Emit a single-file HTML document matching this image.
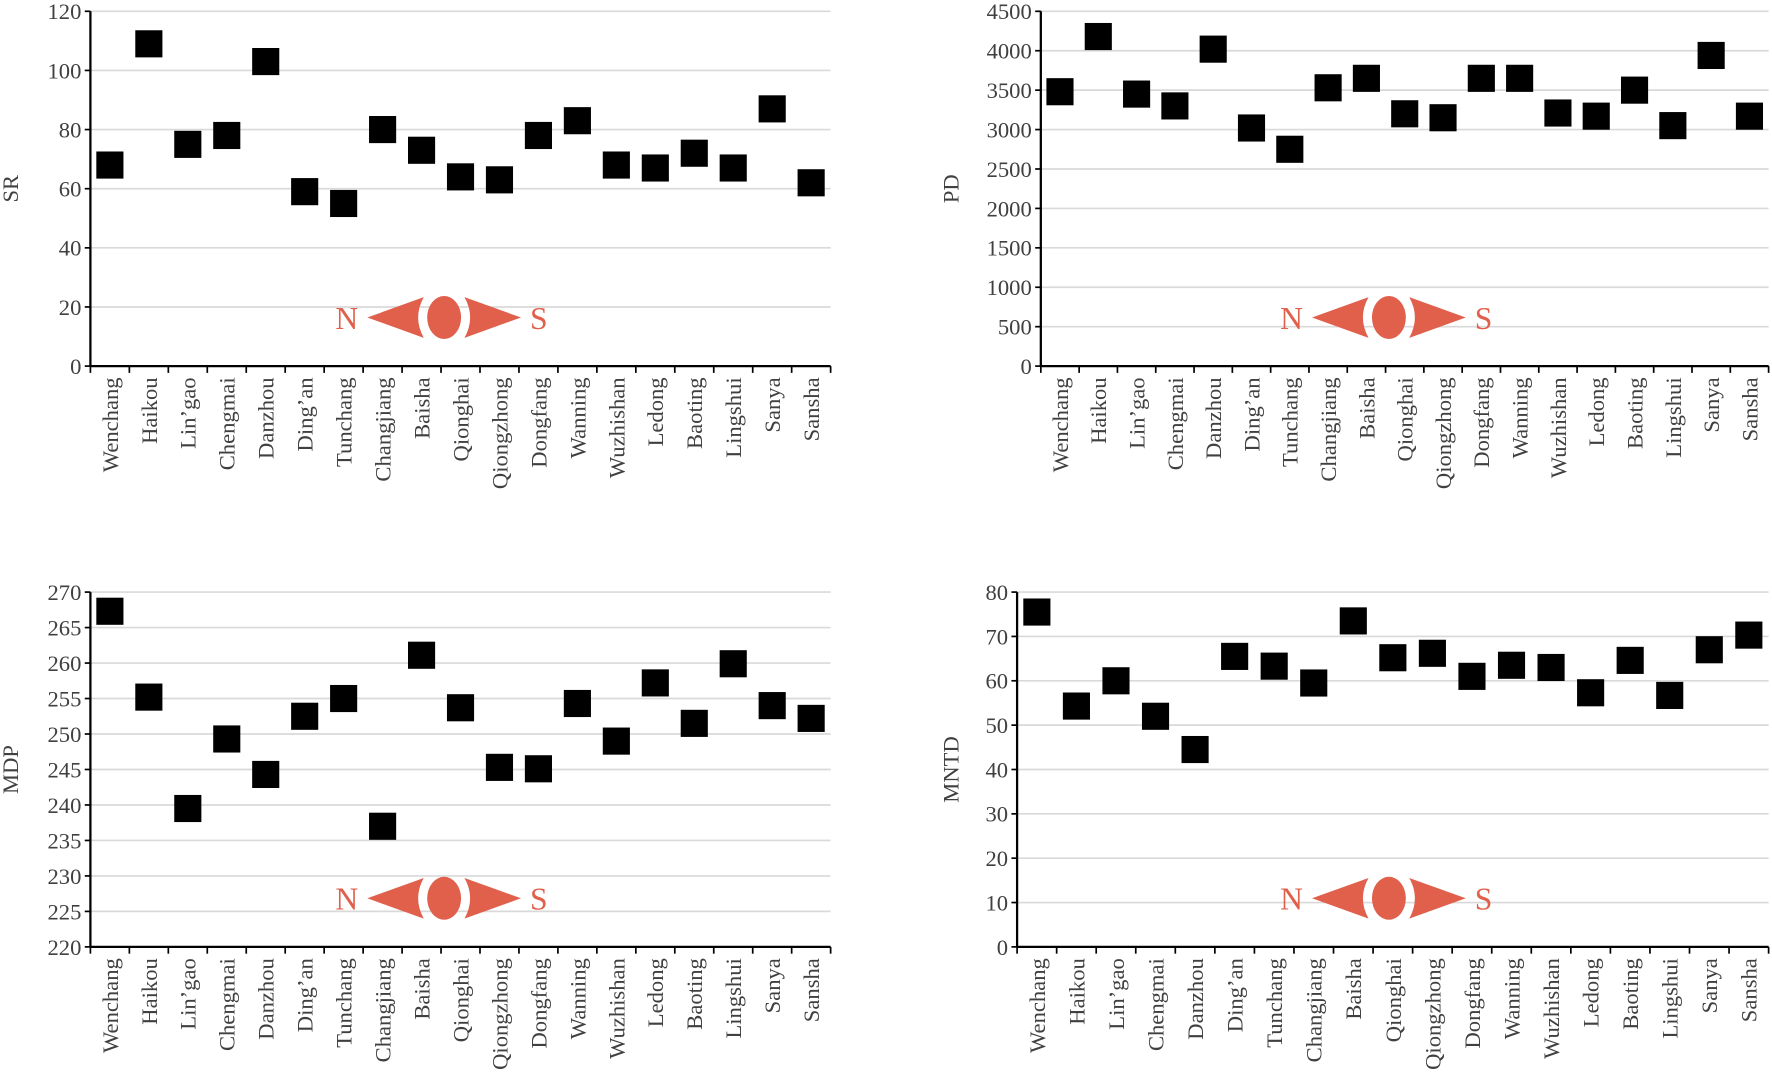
<!DOCTYPE html>
<html><head><meta charset="utf-8"><style>
html,body{margin:0;padding:0;background:#fff;}
svg{display:block;}
text{font-family:"Liberation Serif",serif;fill:#404040;}
</style></head><body>
<svg id="root" width="1772" height="1087" viewBox="0 0 1568 962" preserveAspectRatio="none" xmlns="http://www.w3.org/2000/svg"></svg>
<script>
const categories = ["Wenchang","Haikou","Lin\u2019gao","Chengmai","Danzhou","Ding\u2019an","Tunchang","Changjiang","Baisha","Qionghai","Qiongzhong","Dongfang","Wanning","Wuzhishan","Ledong","Baoting","Lingshui","Sanya","Sansha"];
const srValues = [68,109,75,78,103,59,55,80,73,64,63,78,83,68,67,72,67,87,62];
const pdValues = [3480,4180,3450,3300,4020,3020,2750,3530,3650,3200,3150,3650,3650,3210,3170,3500,3050,3940,3170];
const mdpValues = [267.3,255.2,239.5,249.3,244.3,252.5,255,237,261.1,253.7,245.3,245.1,254.3,249,257.2,251.5,259.9,254,252.2];
const mntdValues = [75.5,54.3,60,52,44.5,65.5,63.3,59.5,73.5,65.2,66.2,61,63.5,63,57.3,64.6,56.7,67,70.3];
const srTicks = [0,20,40,60,80,100,120];
const pdTicks = [0,500,1000,1500,2000,2500,3000,3500,4000,4500];
const mdpTicks = [220,225,230,235,240,245,250,255,260,265,270];
const mntdTicks = [0,10,20,30,40,50,60,70,80];

const NS="http://www.w3.org/2000/svg";
const root=document.getElementById('root');
function mk(tag,attrs,parent){const e=document.createElementNS(NS,tag);for(const k in attrs)e.setAttribute(k,attrs[k]);(parent||root).appendChild(e);return e;}

function chart(name,yTitle,values,ticks,x0,x1,yTop,yBot,compassX,titleX){
  const g=mk('g',{});
  
  
  const lo=ticks[0],hi=ticks[ticks.length-1];
  const yS=v=>yBot-(v-lo)/(hi-lo)*(yBot-yTop);
  const n=categories.length,bw=(x1-x0)/n;
  const xS=i=>x0+bw*(i+0.5);
  ticks.forEach(t=>{
    const y=yS(t);
    if(t!==lo){const l=mk('line',{x1:x0,x2:x1,y1:y,y2:y,stroke:'#d9d9d9','stroke-width':1.5},g);
      
      }
    mk('line',{x1:x0-5,x2:x0,y1:y,y2:y,stroke:'#000','stroke-width':1.5},g);
    const tx=mk('text',{x:x0-8,y:y+7,'text-anchor':'end','font-size':20},g);
    tx.textContent=t;
    
    
  });
  const ya=mk('line',{x1:x0,x2:x0,y1:yTop,y2:yBot,stroke:'#000','stroke-width':2},g);
  
  
  const xa=mk('line',{x1:x0,x2:x1,y1:yBot,y2:yBot,stroke:'#000','stroke-width':2},g);
  
  
  for(let i=0;i<=n;i++){const xx=x0+bw*i;mk('line',{x1:xx,x2:xx,y1:yBot,y2:yBot+6,stroke:'#000','stroke-width':1.5},g);}
  categories.forEach((c,i)=>{
    const t=mk('text',{transform:`translate(${xS(i)+7},${yBot+10}) rotate(-90)`,'text-anchor':'end','font-size':20},g);
    t.textContent=c;
    
    
  });
  const yt=mk('text',{transform:`translate(${titleX},${(yTop+yBot)/2}) rotate(-90)`,'text-anchor':'middle','font-size':20},g);
  yt.textContent=yTitle;
  
  
  values.forEach((v,i)=>{
    const r=mk('rect',{x:xS(i)-12,y:yS(v)-12,width:24,height:24,fill:'#000'},g);
    
    
  });
  const cx=compassX, cy=yTop+(yBot-yTop)*0.863;
  const cg=mk('g',{fill:'#e0604c'},g);
  
  
  mk('path',{d:`M${cx-68},${cy} L${cx-18},${cy-18} Q${cx-28},${cy} ${cx-18},${cy+18} Z`},cg);
  mk('path',{d:`M${cx+68},${cy} L${cx+18},${cy-18} Q${cx+28},${cy} ${cx+18},${cy+18} Z`},cg);
  mk('ellipse',{cx:cx,cy:cy,rx:15,ry:19},cg);
  const tn=mk('text',{x:cx-76,y:cy+10,'text-anchor':'end','font-size':28,style:'fill:#e0604c'},cg);tn.textContent='N';
  const ts=mk('text',{x:cx+76,y:cy+10,'text-anchor':'start','font-size':28,style:'fill:#e0604c'},cg);ts.textContent='S';
}
chart('sr','SR',srValues,srTicks,80,735,10,324,393,16);
chart('pd','PD',pdValues,pdTicks,921,1565,10,324,1229,848);
chart('mdp','MDP',mdpValues,mdpTicks,80,735,524,838,393,16);
chart('mntd','MNTD',mntdValues,mntdTicks,900,1565,524,838,1229,848);
</script>
</body></html>
